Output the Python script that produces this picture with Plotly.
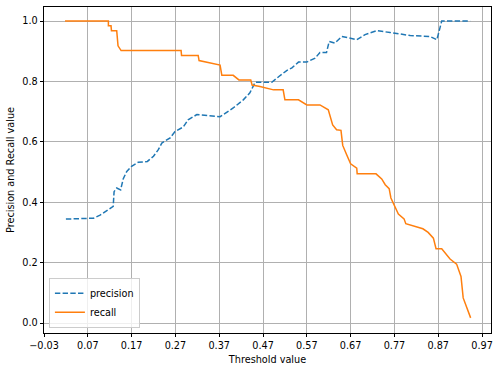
import plotly.graph_objects as go

# Precision curve (threshold, value)
precision_thresholds = [0.020, 0.083, 0.098, 0.113, 0.128, 0.130, 0.136, 0.145, 0.151, 0.159,
                        0.170, 0.185, 0.206, 0.220, 0.231, 0.239, 0.258, 0.269, 0.288, 0.299,
                        0.319, 0.372, 0.402, 0.425, 0.440, 0.452, 0.490, 0.507, 0.524, 0.536,
                        0.551, 0.570, 0.589, 0.600, 0.615, 0.621, 0.634, 0.650, 0.665, 0.684,
                        0.703, 0.730, 0.760, 0.783, 0.806, 0.851, 0.867, 0.878, 0.943]
precision_values = [0.344, 0.347, 0.357, 0.373, 0.386, 0.435, 0.447, 0.441, 0.478, 0.502,
                    0.519, 0.532, 0.535, 0.552, 0.574, 0.596, 0.613, 0.634, 0.649, 0.673,
                    0.690, 0.683, 0.712, 0.739, 0.762, 0.797, 0.797, 0.817, 0.836, 0.845,
                    0.864, 0.864, 0.877, 0.896, 0.896, 0.932, 0.927, 0.949, 0.944, 0.938,
                    0.955, 0.968, 0.962, 0.957, 0.952, 0.949, 0.938, 1.000, 1.000]

# Recall curve (threshold, value)
recall_thresholds = [0.018, 0.117, 0.117, 0.123, 0.124, 0.136, 0.139, 0.146, 0.283, 0.284,
                     0.322, 0.324, 0.372, 0.376, 0.402, 0.415, 0.442, 0.445, 0.463, 0.494,
                     0.516, 0.520, 0.551, 0.570, 0.600, 0.619, 0.629, 0.638, 0.648, 0.652,
                     0.661, 0.670, 0.684, 0.685, 0.728, 0.741, 0.749, 0.758, 0.762, 0.771,
                     0.779, 0.792, 0.796, 0.835, 0.847, 0.859, 0.865, 0.878, 0.897, 0.912,
                     0.917, 0.922, 0.927, 0.944]
recall_values = [1.000, 1.000, 0.984, 0.984, 0.968, 0.968, 0.918, 0.902, 0.902, 0.886,
                 0.886, 0.869, 0.854, 0.820, 0.820, 0.805, 0.805, 0.788, 0.783, 0.772,
                 0.772, 0.739, 0.739, 0.722, 0.722, 0.706, 0.656, 0.640, 0.638, 0.588,
                 0.557, 0.527, 0.513, 0.494, 0.494, 0.477, 0.458, 0.445, 0.414, 0.386,
                 0.361, 0.345, 0.329, 0.312, 0.300, 0.281, 0.246, 0.246, 0.212, 0.195,
                 0.176, 0.154, 0.083, 0.017]

x_ticks = [-0.03, 0.07, 0.17, 0.27, 0.37, 0.47, 0.57, 0.67, 0.77, 0.87, 0.97]
x_tick_labels = ["\u22120.03", "0.07", "0.17", "0.27", "0.37", "0.47", "0.57", "0.67", "0.77", "0.87", "0.97"]
y_ticks = [0.0, 0.2, 0.4, 0.6, 0.8, 1.0]
y_tick_labels = ["0.0", "0.2", "0.4", "0.6", "0.8", "1.0"]

FONT = "DejaVu Sans"
FS = 9.7

fig = go.Figure()
fig.add_trace(go.Scatter(
    x=precision_thresholds, y=precision_values, mode="lines", name="precision",
    line=dict(color="#1f77b4", width=1.5, dash="5.4px,2.3px"),
))
fig.add_trace(go.Scatter(
    x=recall_thresholds, y=recall_values, mode="lines", name="recall",
    line=dict(color="#ff7f0e", width=1.5),
))

axis_common = dict(
    showgrid=True, gridcolor="#b0b0b0", gridwidth=0.8,
    showline=True, linecolor="black", linewidth=0.8, mirror=True,
    ticks="outside", ticklen=3.4, tickwidth=0.8, tickcolor="black",
    zeroline=False,
    tickfont=dict(family=FONT, size=FS, color="black"),
)

fig.update_layout(
    width=500, height=371,
    margin=dict(l=44, r=9, t=7, b=38, autoexpand=False),
    paper_bgcolor="white", plot_bgcolor="white",
    font=dict(family=FONT, size=FS, color="black"),
    showlegend=True,
    legend=dict(
        x=0.011, y=0.016, xanchor="left", yanchor="bottom",
        bgcolor="rgba(255,255,255,0.8)", bordercolor="#cccccc", borderwidth=1,
        font=dict(family=FONT, size=FS, color="black"),
        tracegroupgap=0, itemwidth=30,
    ),
    xaxis=dict(
        range=[-0.03, 0.9905],
        tickmode="array", tickvals=x_ticks, ticktext=x_tick_labels,
        title=dict(text="Threshold value", font=dict(family=FONT, size=FS), standoff=6),
        **axis_common,
    ),
    yaxis=dict(
        range=[-0.0331, 1.0464],
        tickmode="array", tickvals=y_ticks, ticktext=y_tick_labels,
        title=dict(text="Precision and Recall value", font=dict(family=FONT, size=FS), standoff=5),
        **axis_common,
    ),
)

fig.write_html(
    "out.html",
    config={"displayModeBar": False},
    post_script="document.body.style.margin='0';document.body.style.padding='0';",
)
